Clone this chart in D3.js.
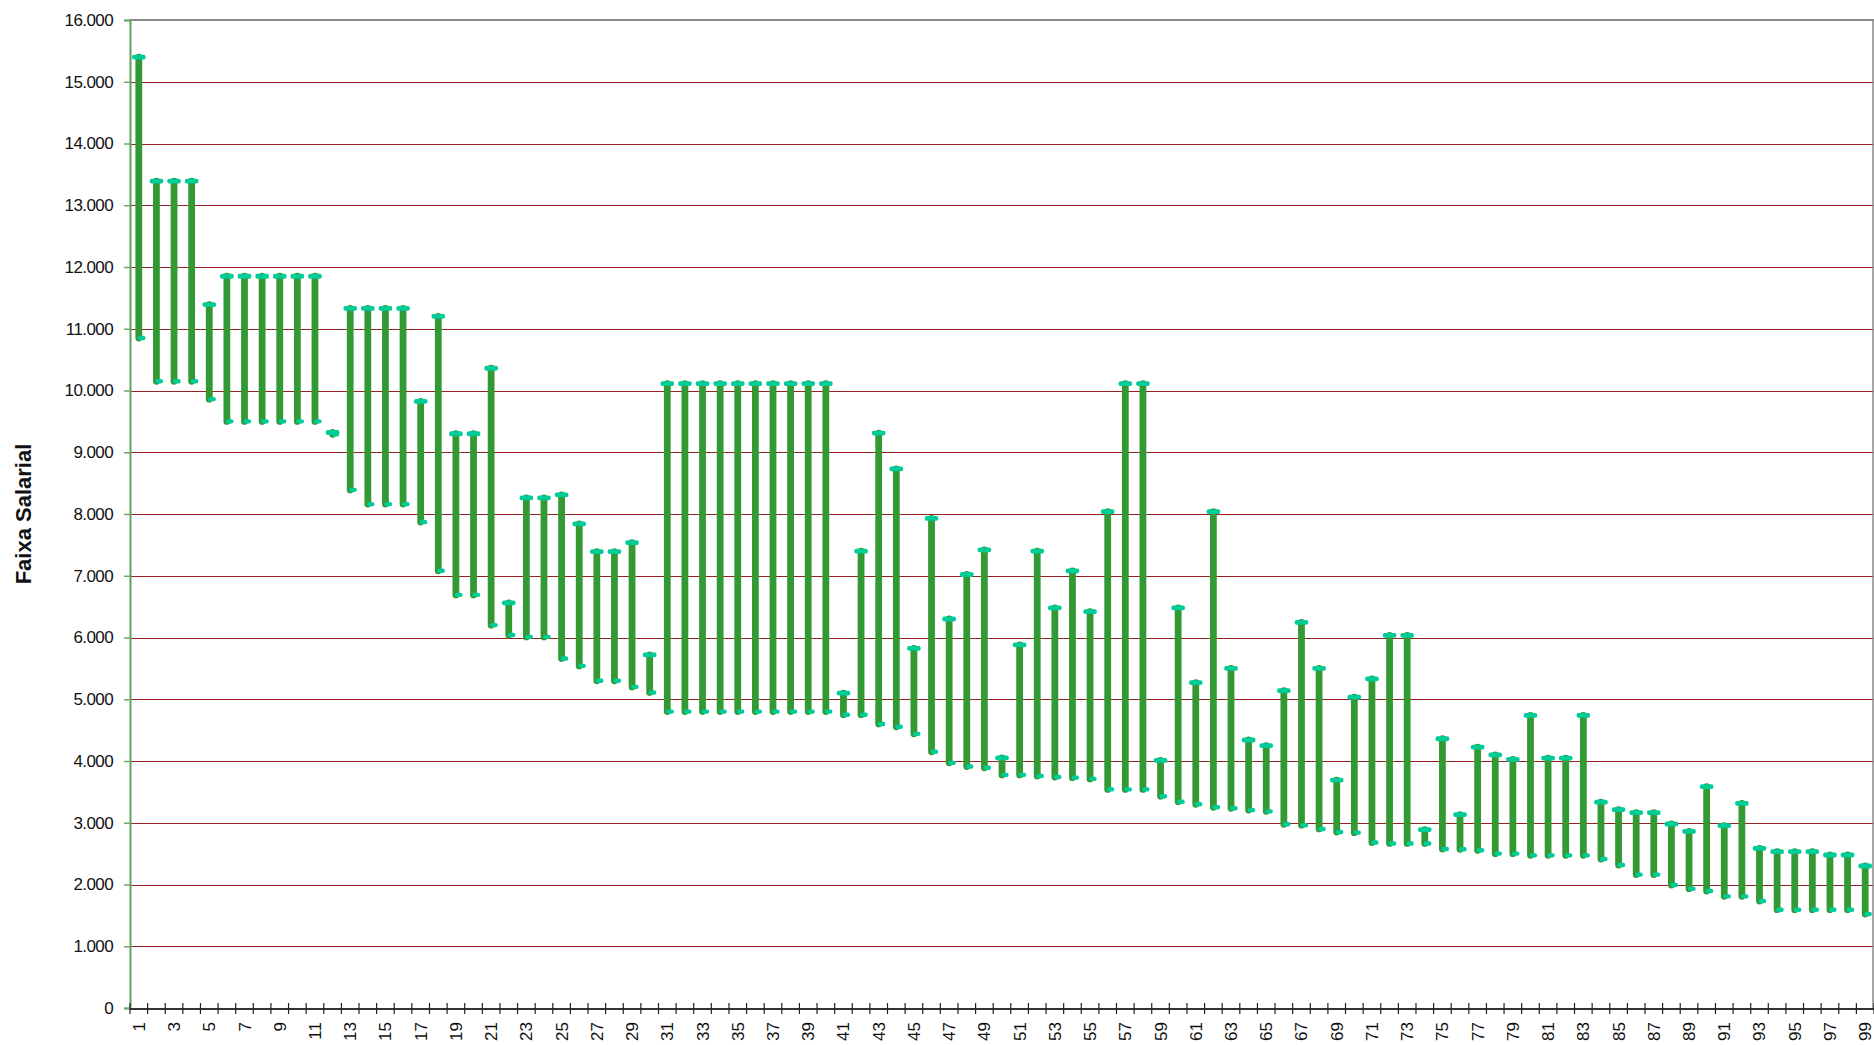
<!DOCTYPE html>
<html>
<head>
<meta charset="utf-8">
<script src="https://cdn.jsdelivr.net/npm/d3@7"></script>
<style>
  html, body { margin: 0; padding: 0; background: #ffffff; }
  svg { display: block; font-family: "Liberation Sans", Arial, sans-serif; }
</style>
</head>
<body>
<svg id="chart" width="1874" height="1045"></svg>
<script>
// Categories 1..99
const categories = d3.range(1, 100);

// Upper limit of each salary range
const highValues = [
  15400, 13390, 13390, 13390, 11390, 11850, 11850, 11850, 11850, 11850,
  11850, 9320, 11330, 11330, 11330, 11330, 9825, 11200, 9300, 9300,
  10360, 6560, 8260, 8260, 8310, 7840, 7390, 7390, 7535, 5720,
  10110, 10110, 10110, 10110, 10110, 10110, 10110, 10110, 10110, 10110,
  5100, 7400, 9310, 8730, 5825, 7930, 6300, 7020, 7420, 4050,
  5880, 7400, 6480, 7080, 6420, 8040, 10110, 10110, 4010, 6480,
  5270, 8040, 5500, 4340, 4250, 5140, 6245, 5500, 3690, 5035,
  5330, 6035, 6035, 2890, 4360, 3130, 4225, 4100, 4025, 4740,
  4045, 4045, 4740, 3335, 3212, 3163, 3163, 2980, 2860, 3585,
  2953, 3315, 2586, 2532, 2532, 2532, 2478, 2478, 2300
];

// Lower limit of each salary range
const lowValues = [
  10850, 10150, 10150, 10150, 9860, 9500, 9500, 9500, 9500, 9500,
  9500, 9290, 8390, 8160, 8160, 8160, 7870, 7080, 6690, 6690,
  6200, 6040, 6010, 6010, 5660, 5540, 5300, 5300, 5200, 5110,
  4800, 4800, 4800, 4800, 4800, 4800, 4800, 4800, 4800, 4800,
  4750, 4750, 4600, 4555, 4440, 4150, 3970, 3910, 3890, 3775,
  3775, 3757, 3740, 3730, 3710, 3540, 3540, 3540, 3430, 3340,
  3300, 3250, 3235, 3205, 3185, 2975, 2960, 2900, 2850, 2840,
  2680, 2665, 2665, 2665, 2575, 2570, 2555, 2500, 2500, 2472,
  2472, 2472, 2472, 2413, 2316, 2160, 2160, 1992, 1932, 1895,
  1808, 1808, 1733, 1592, 1592, 1592, 1592, 1592, 1522
];

const yTickValues = d3.range(0, 16001, 1000);
const yTitle = "Faixa Salarial";

const data = categories.map((c, i) => ({ cat: c, high: highValues[i], low: lowValues[i] }));

const svg = d3.select("#chart");
const plotLeft = 130, plotRight = 1874, plotTop = 20, plotBottom = 1008;

const x = d3.scaleBand().domain(categories).range([plotLeft, plotRight]).padding(0);
const y = d3.scaleLinear().domain([0, 16000]).range([plotBottom, plotTop]);

const locale = d3.formatLocale({ decimal: ",", thousands: ".", grouping: [3], currency: ["R$", ""] });
const fmt = locale.format(",d");

// Gridlines
svg.append("g")
  .selectAll("line")
  .data(yTickValues.filter(v => v > 0 && v < 16000))
  .join("line")
  .attr("x1", plotLeft).attr("x2", plotRight)
  .attr("y1", d => Math.round(y(d)) + 0.5).attr("y2", d => Math.round(y(d)) + 0.5)
  .attr("stroke", "#982222").attr("stroke-width", 1.2);

// Plot border top and right
svg.append("line").attr("x1", plotLeft).attr("x2", plotRight).attr("y1", plotTop).attr("y2", plotTop)
  .attr("stroke", "#8a8a8a").attr("stroke-width", 2);
svg.append("line").attr("x1", plotRight - 1).attr("x2", plotRight - 1).attr("y1", plotTop).attr("y2", plotBottom)
  .attr("stroke", "#8a8a8a").attr("stroke-width", 1.5);

// Y axis
const yAxis = d3.axisLeft(y).tickValues(yTickValues).tickSize(6).tickPadding(11)
  .tickFormat(d => d === 0 ? "0" : fmt(d));
const gy = svg.append("g").attr("transform", `translate(${plotLeft},0)`).call(yAxis);
gy.select(".domain").attr("stroke", "#5f9f5f").attr("stroke-width", 2);
gy.selectAll(".tick line").attr("stroke", "#6aaa6a").attr("stroke-width", 1.5);
gy.selectAll(".tick text").attr("fill", "#111").attr("font-size", "17px")
  .attr("letter-spacing", "-0.6px")
  .attr("font-family", "'Liberation Sans', Arial, sans-serif");

// X axis
const boundaries = d3.range(0, 100).map(i => plotLeft + i * x.bandwidth());
const gx = svg.append("g");
gx.append("line").attr("x1", plotLeft).attr("x2", plotRight).attr("y1", plotBottom + 1).attr("y2", plotBottom + 1)
  .attr("stroke", "#333").attr("stroke-width", 2);
gx.selectAll("line.tk").data(boundaries).join("line").attr("class", "tk")
  .attr("x1", d => d).attr("x2", d => d)
  .attr("y1", plotBottom - 5).attr("y2", plotBottom + 6)
  .attr("stroke", "#222").attr("stroke-width", 1.2);
gx.selectAll("text").data(categories.filter(c => c % 2 === 1)).join("text")
  .attr("transform", d => `translate(${x(d) + x.bandwidth() / 2 + 6},${plotBottom + 14}) rotate(-90)`)
  .attr("text-anchor", "end")
  .attr("font-size", "17px")
  .attr("fill", "#111")
  .text(d => d);

// Y title
svg.append("text")
  .attr("transform", `translate(31,${(plotTop + plotBottom) / 2}) rotate(-90)`)
  .attr("text-anchor", "middle")
  .attr("font-size", "22px").attr("font-weight", "bold").attr("fill", "#111")
  .text(yTitle);

// High-low bars
const gb = svg.append("g");
const cx = d => x(d.cat) + x.bandwidth() / 2;
gb.selectAll("line").data(data).join("line")
  .attr("x1", cx).attr("x2", cx)
  .attr("y1", d => y(d.high)).attr("y2", d => y(d.low))
  .attr("stroke", "#339933").attr("stroke-width", 6.8).attr("stroke-linecap", "round");

// High caps (centered dash)
gb.selectAll("rect.hi").data(data).join("rect").attr("class", "hi")
  .attr("x", d => cx(d) - 6.8).attr("y", d => y(d.high) - 2.4)
  .attr("width", 13.6).attr("height", 4.8).attr("rx", 2)
  .attr("fill", "#00cc99");

// Low caps (dash offset to the right)
gb.selectAll("rect.lo").data(data).join("rect").attr("class", "lo")
  .attr("x", d => cx(d) - 1).attr("y", d => y(d.low) - 2.2)
  .attr("width", 7.6).attr("height", 4.4).attr("rx", 2)
  .attr("fill", "#00cc99");
</script>
</body>
</html>
